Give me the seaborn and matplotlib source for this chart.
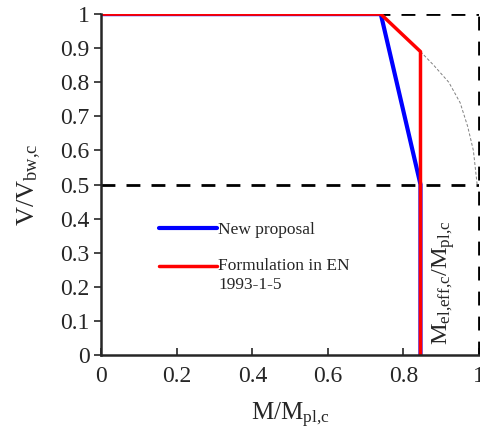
import matplotlib
matplotlib.use("Agg")
from matplotlib import pyplot as plt
import pandas as pd
import seaborn as sns

# values
new_m = [0.0, 0.74, 0.845, 0.845]
new_v = [1.0, 1.0, 0.5, 0.0]
en_m = [0.0, 0.74, 0.845, 0.845]
en_v = [1.0, 1.0, 0.89, 0.0]
curve_m = [0.845, 0.88, 0.92, 0.95, 0.97, 0.985, 0.995]
curve_v = [0.89, 0.85, 0.80, 0.74, 0.67, 0.60, 0.50]

sns.set_style("ticks")
plt.rcParams["font.family"] = ["Liberation Serif", "DejaVu Serif"]
plt.rcParams["mathtext.fontset"] = "custom"
plt.rcParams["mathtext.rm"] = "Liberation Serif"
plt.rcParams["mathtext.it"] = "Liberation Serif"

fig = plt.figure(figsize=(4.8, 4.41), dpi=100)
ax = fig.add_axes([0.211, 0.195, 0.787, 0.773])

new_df = pd.DataFrame({"M": new_m, "V": new_v})
en_df = pd.DataFrame({"M": en_m, "V": en_v})
curve_df = pd.DataFrame({"M": curve_m, "V": curve_v})

# reference lines
for y in [1.0, 0.5]:
    ax.axhline(y, color="black", lw=2, ls=(0, (5, 4)), zorder=1)
ax.axvline(1.0, color="black", lw=2, ls=(0, (5, 4)), zorder=1, clip_on=False)

sns.lineplot(data=curve_df, x="M", y="V", ax=ax, color="grey", lw=0.7,
             ls=(0, (3, 2)), sort=False, estimator=None)
sns.lineplot(data=new_df, x="M", y="V", ax=ax, color="blue", lw=3,
             sort=False, estimator=None, label="New proposal")
sns.lineplot(data=en_df, x="M", y="V", ax=ax, color="red", lw=2.5,
             sort=False, estimator=None, label="Formulation in EN\n1993-1-5")

ax.set_xlim(0, 1)
ax.set_ylim(0, 1)
ax.set_xticks([0, 0.2, 0.4, 0.6, 0.8, 1])
ax.set_xticklabels(["0", "0.2", "0.4", "0.6", "0.8", "1"])
ax.set_yticks([i / 10 for i in range(11)])
ax.set_yticklabels(["0"] + [f"{i/10:.1f}" for i in range(1, 10)] + ["1"])
ax.tick_params(axis="x", direction="in", length=5, width=1.2, labelsize=17, pad=8)
ax.tick_params(axis="y", direction="out", length=5, width=1.2, labelsize=17)
for s in ["top", "right"]:
    ax.spines[s].set_visible(False)
for s in ["left", "bottom"]:
    ax.spines[s].set_linewidth(1.8)

ax.set_xlabel(r"M/M$_{\mathrm{pl{,}c}}$", fontsize=18, labelpad=10)
ax.set_ylabel(r"V/V$_{\mathrm{bw{,}c}}$", fontsize=19, labelpad=12)

ax.text(0.906, 0.03, r"M$_{\mathrm{el{,}eff{,}c}}$/M$_{\mathrm{pl{,}c}}$", rotation=90,
        fontsize=17.5, ha="center", va="bottom")

leg = ax.legend(loc="upper left", bbox_to_anchor=(0.135, 0.41), frameon=False,
                fontsize=12.5, handlelength=3.3, handletextpad=0.1,
                labelspacing=1.15, borderaxespad=0)
# align the red handle with the first row of its two-line label
red_handle = leg.legend_handles[1]
red_handle.set_ydata([v + 7 for v in red_handle.get_ydata()])

plt.savefig("out.png", dpi=100)
